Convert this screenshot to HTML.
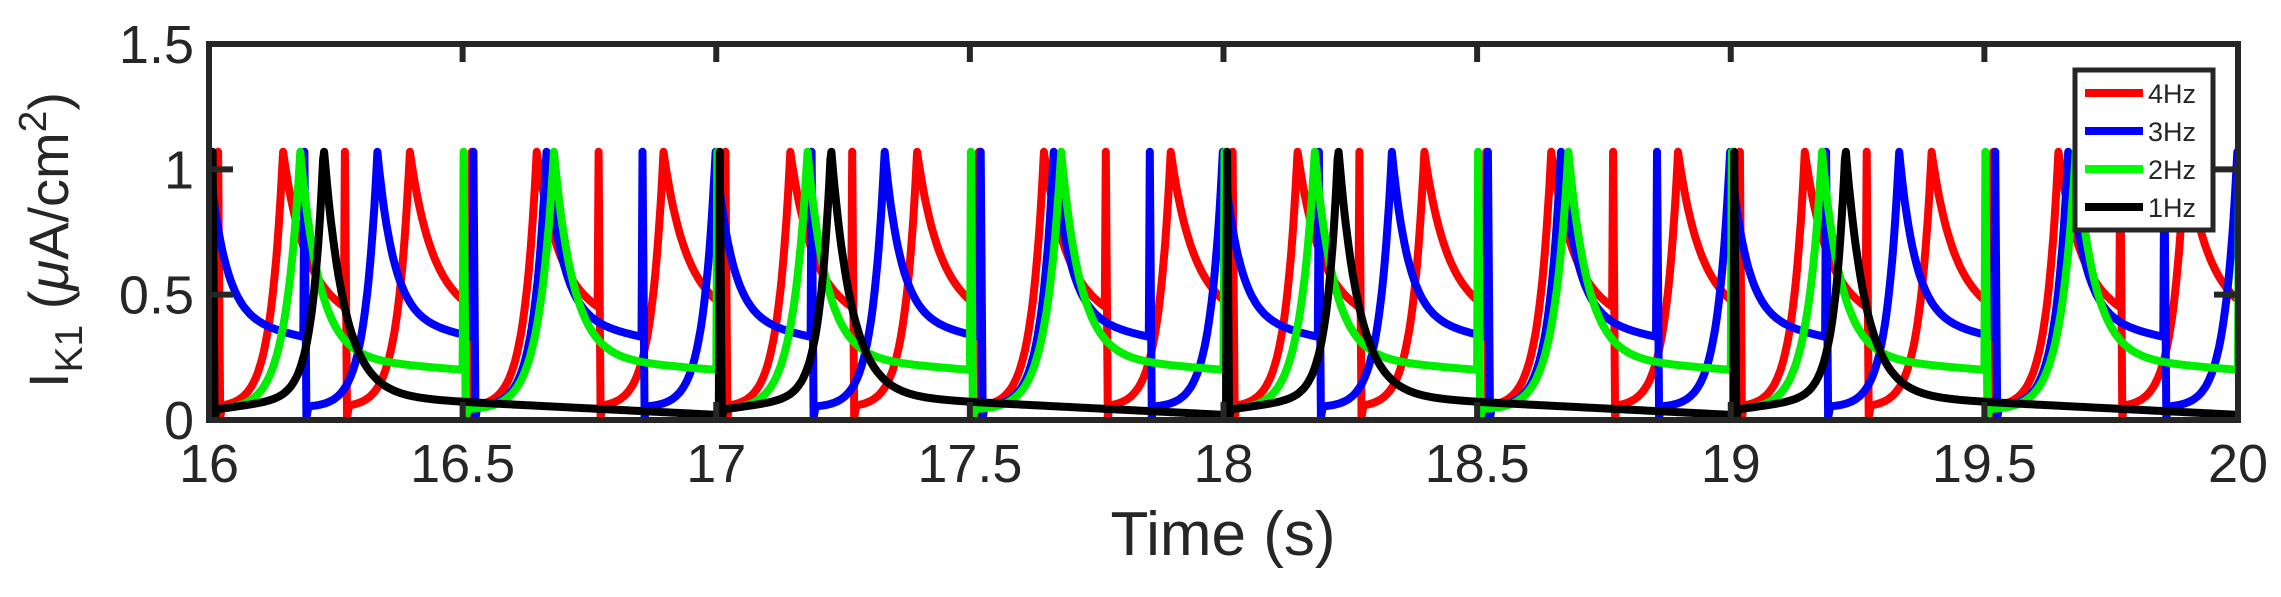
<!DOCTYPE html>
<html><head><meta charset="utf-8"><style>
html,body{margin:0;padding:0;background:#fff;}
svg{display:block;font-family:"Liberation Sans",Arial,sans-serif;}
</style></head><body>
<svg id="s" width="2281" height="597" viewBox="0 0 2281 597" xmlns="http://www.w3.org/2000/svg">
<defs><clipPath id="c"><rect x="209" y="40" width="2029" height="384"/></clipPath></defs>
<g id="lines" clip-path="url(#c)" fill="none" stroke-width="8" stroke-linejoin="round"></g>
<g stroke="#262626" stroke-width="6" fill="none">
<rect x="209" y="44" width="2029" height="376"/>
</g>
<g id="ticks" stroke="#262626" stroke-width="6"></g>
<g id="labels" fill="#262626" font-size="54"></g>
<text x="1223" y="555" font-size="62" text-anchor="middle" fill="#262626">Time (s)</text>
<text transform="translate(68,240) rotate(-90)" font-size="56" text-anchor="middle" fill="#262626">I<tspan font-size="39" dy="14">K1</tspan><tspan dy="-14"> (</tspan><tspan font-style="italic">μ</tspan>A/cm<tspan font-size="39" dy="-22">2</tspan><tspan dy="22">)</tspan></text>
<g>
<rect x="2075" y="70" width="138" height="160" fill="#fff" stroke="#262626" stroke-width="5"/>
<line x1="2085" y1="93" x2="2143" y2="93" stroke="#f00" stroke-width="8"/>
<line x1="2085" y1="131" x2="2143" y2="131" stroke="#00f" stroke-width="8"/>
<line x1="2085" y1="169" x2="2143" y2="169" stroke="#0f0" stroke-width="8"/>
<line x1="2085" y1="207" x2="2143" y2="207" stroke="#000" stroke-width="8"/>
<g font-size="27" fill="#262626">
<text x="2148" y="103">4Hz</text><text x="2148" y="141">3Hz</text>
<text x="2148" y="179">2Hz</text><text x="2148" y="217">1Hz</text>
</g></g>
</svg>
<script>
var X0=209,X1=2238,Y0=420,Y1=44;
function px(t){return X0+(t-16)/4*(X1-X0);}
function py(v){return Y0-v/1.5*(Y0-Y1);}
var ns="http://www.w3.org/2000/svg";
var series=[
 {c:"#ff0000",T:0.25,off:0.016,d:0.13,tr:0.025,base:0.05,L0:0.5,L1:0.42,td:0.04},
 {c:"#0000ff",T:1/3,off:0.186,d:0.146,tr:0.025,base:0.05,L0:0.40,L1:0.33,td:0.032},
 {c:"#00ee00",T:0.5,off:0.0,d:0.18,tr:0.03,base:0.04,L0:0.25,L1:0.2,td:0.038},
 {c:"#000000",T:1.0,off:0.005,d:0.222,tr:0.022,base:0.04,L0:0.10,L1:0.02,td:0.04}
];
function val(p,dt){
 var P=1.07;
 if(dt<p.d){
  var r=p.base+(P-p.base)*Math.exp(-(p.d-dt)/p.tr);
  if(p.c=="#000000") r+=0.06*(dt/p.d);
  return Math.min(r,P);
 }
 var u=dt-p.d, rem=p.T-p.d;
 var L=p.L0+(p.L1-p.L0)*(u/rem);
 return L+(P-L)*Math.exp(-u/p.td);
}
var g=document.getElementById("lines");
series.forEach(function(p){
 var pts=[];
 for(var k=-2;;k++){
  var s=16+p.off+k*p.T;
  if(s>20.2) break;
  pts.push([s,val(p,p.T-0.0001)]);
  pts.push([s+0.002,1.07]);
  pts.push([s+0.006,0.01]);
  for(var dt=0.01;dt<p.T;dt+=0.002){pts.push([s+dt,val(p,dt)]);}
 }
 var d="";
 pts.forEach(function(q,i){d+=(i?"L":"M")+px(q[0]).toFixed(1)+","+py(q[1]).toFixed(1);});
 var e=document.createElementNS(ns,"path");
 e.setAttribute("d",d);e.setAttribute("stroke",p.c);
 g.appendChild(e);
});
var tk=document.getElementById("ticks"),lb=document.getElementById("labels");
function ln(a,b,c,d2){var e=document.createElementNS(ns,"line");e.setAttribute("x1",a);e.setAttribute("y1",b);e.setAttribute("x2",c);e.setAttribute("y2",d2);tk.appendChild(e);}
function tx(x,y,s,anc){var e=document.createElementNS(ns,"text");e.setAttribute("x",x);e.setAttribute("y",y);e.setAttribute("text-anchor",anc);e.textContent=s;lb.appendChild(e);}
for(var i=0;i<=8;i++){var t=16+i*0.5,x=px(t);ln(x,Y0,x,Y0-18);ln(x,Y1,x,Y1+18);tx(x,482,String(t),"middle");}
[0,0.5,1,1.5].forEach(function(v){var y=py(v);ln(X0,y,X0+24,y);ln(X1,y,X1-24,y);tx(194,y+19,String(v),"end");});
</script>
</body></html>
